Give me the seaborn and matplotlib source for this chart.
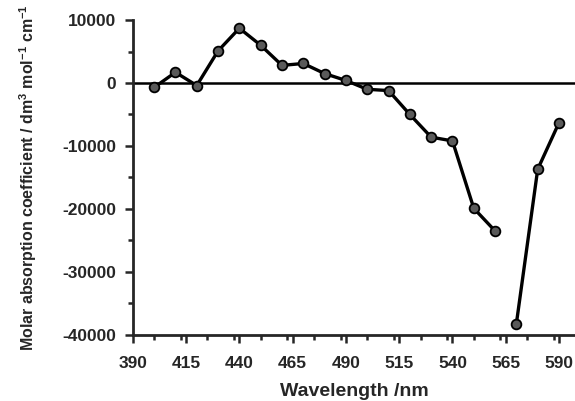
import numpy as np
import pandas as pd
import seaborn as sns
import matplotlib.pyplot as plt
from matplotlib.ticker import MultipleLocator

wavelength_a = [400, 410, 420, 430, 440, 450, 460, 470, 480, 490, 500, 510, 520, 530, 540, 550, 560]
coeff_a = [-700, 1700, -400, 5100, 8700, 6000, 2800, 3100, 1500, 400, -1000, -1200, -5000, -8600, -9200, -19900, -23500]
wavelength_b = [570, 580, 590]
coeff_b = [-38200, -13700, -6300]

x_ticks = [390, 415, 440, 465, 490, 515, 540, 565, 590]
y_ticks = [-40000, -30000, -20000, -10000, 0, 10000]

df = pd.DataFrame({
  'wavelength': wavelength_a + wavelength_b,
  'coeff': coeff_a + coeff_b,
  'segment': ['a'] * len(wavelength_a) + ['b'] * len(wavelength_b),
})

sns.set_style('ticks')
plt.rcParams['font.family'] = ['Liberation Sans', 'DejaVu Sans']
plt.rcParams['font.weight'] = 'bold'
plt.rcParams['axes.unicode_minus'] = False
plt.rcParams['mathtext.fontset'] = 'custom'
plt.rcParams['mathtext.rm'] = 'Liberation Sans:bold'
plt.rcParams['mathtext.it'] = 'Liberation Sans:bold'
plt.rcParams['mathtext.bf'] = 'Liberation Sans:bold'

fig = plt.figure(figsize=(5.75, 4.01), dpi=100)
ax = fig.add_axes([0.231, 0.165, 0.769, 0.785])

ax.axhline(0, color='black', lw=1.8, zorder=1)
sns.lineplot(data=df, x='wavelength', y='coeff', units='segment', estimator=None,
             color='black', lw=2.4, marker='o', markersize=7,
             markerfacecolor='#5a5a5a', markeredgecolor='black', markeredgewidth=1.3,
             ax=ax, zorder=3)

ax.set_xlim(390, 597.5)
ax.set_ylim(-40000, 10000)
ax.set_xticks(x_ticks)
ax.set_yticks(y_ticks)
ax.xaxis.set_minor_locator(MultipleLocator(12.5))
ax.yaxis.set_minor_locator(MultipleLocator(5000))
ax.tick_params(which='major', length=6, width=1.8, labelsize=12.5)
ax.tick_params(axis='y', which='major', pad=6)
ax.tick_params(axis='x', which='major', pad=9)
ax.tick_params(which='minor', length=3.5, width=1.8)
for lab in ax.get_xticklabels() + ax.get_yticklabels():
  lab.set_fontweight('bold')

sns.despine(ax=ax)
ax.spines['left'].set_linewidth(2)
ax.spines['bottom'].set_linewidth(2)

ax.set_xlabel('Wavelength /nm', fontsize=14, fontweight='bold', labelpad=9)
ax.set_ylabel(r'Molar absorption coefficient / dm$^{3}$ mol$^{-1}$ cm$^{-1}$',
              fontsize=11.5, fontweight='bold', labelpad=17)

plt.savefig('out.png', dpi=100)
plt.close()
